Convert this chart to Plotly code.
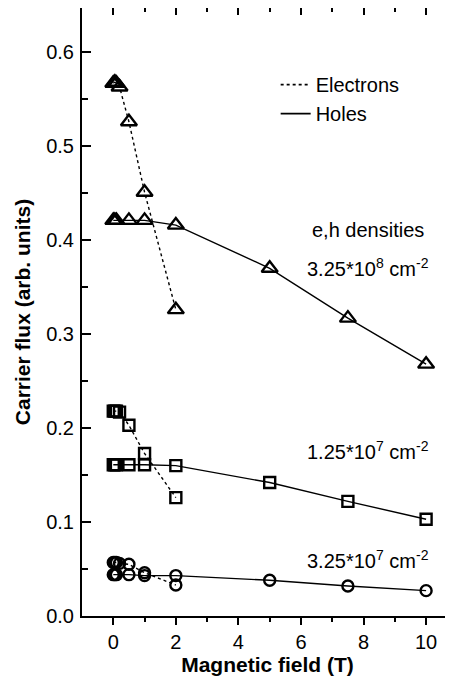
import plotly.graph_objects as go

# ---- data ----
tri_e_x = [0, 0.05, 0.1, 0.2, 0.5, 1, 2]
tri_e_y = [0.567, 0.568, 0.567, 0.563, 0.526, 0.451, 0.326]
tri_h_x = [0, 0.05, 0.1, 0.5, 1, 2, 5, 7.5, 10]
tri_h_y = [0.421, 0.421, 0.421, 0.421, 0.421, 0.416, 0.370, 0.317, 0.268]

sq_e_x = [0, 0.05, 0.1, 0.2, 0.5, 1, 2]
sq_e_y = [0.218, 0.218, 0.218, 0.217, 0.203, 0.173, 0.126]
sq_h_x = [0, 0.05, 0.1, 0.5, 1, 2, 5, 7.5, 10]
sq_h_y = [0.161, 0.161, 0.161, 0.161, 0.161, 0.160, 0.142, 0.122, 0.103]

ci_e_x = [0, 0.05, 0.1, 0.2, 0.5, 1, 2]
ci_e_y = [0.057, 0.057, 0.057, 0.056, 0.055, 0.046, 0.033]
ci_h_x = [0, 0.05, 0.1, 0.5, 1, 2, 5, 7.5, 10]
ci_h_y = [0.044, 0.044, 0.044, 0.044, 0.043, 0.043, 0.038, 0.032, 0.027]

x_ticks = [0, 2, 4, 6, 8, 10]
x_minor = [1, 3, 5, 7, 9]
y_ticks = [0, 0.1, 0.2, 0.3, 0.4, 0.5, 0.6]
y_ticktext = ["0.0", "0.1", "0.2", "0.3", "0.4", "0.5", "0.6"]
y_minor = [0.05, 0.15, 0.25, 0.35, 0.45, 0.55]

x_range = [-1, 10.86]
y_range = [0, 0.647]

FONT = "Liberation Sans, Arial, sans-serif"

fig = go.Figure()

def add(xs, ys, sym, dash, size):
    fig.add_trace(go.Scatter(
        x=xs, y=ys, mode="lines+markers", showlegend=False,
        line=dict(color="black", width=1.4, dash=dash),
        marker=dict(symbol=sym, size=size, color="black", line=dict(width=2.4, color="black")),
    ))

add(tri_e_x, tri_e_y, "triangle-up-open", "dot", 14)
add(tri_h_x, tri_h_y, "triangle-up-open", "solid", 14)
add(sq_e_x, sq_e_y, "square-open", "dot", 11)
add(sq_h_x, sq_h_y, "square-open", "solid", 11)
add(ci_e_x, ci_e_y, "circle-open", "dot", 11)
add(ci_h_x, ci_h_y, "circle-open", "solid", 11)

# legend entries
fig.add_trace(go.Scatter(x=[None], y=[None], mode="lines", name="Electrons",
                         line=dict(color="black", width=1.6, dash="dot")))
fig.add_trace(go.Scatter(x=[None], y=[None], mode="lines", name="Holes",
                         line=dict(color="black", width=1.8)))
# mirror axes carrier
fig.add_trace(go.Scatter(x=[None], y=[None], xaxis="x2", yaxis="y2",
                         showlegend=False, hoverinfo="skip"))

annots = [
    (8.14, 0.411, "e,h densities"),
    (8.14, 0.371, "3.25*10<sup>8</sup> cm<sup>-2</sup>"),
    (8.14, 0.176, "1.25*10<sup>7</sup> cm<sup>-2</sup>"),
    (8.13, 0.060, "3.25*10<sup>7</sup> cm<sup>-2</sup>"),
]
for ax, ay, txt in annots:
    fig.add_annotation(x=ax, y=ay, text=txt, showarrow=False,
                       font=dict(family=FONT, size=20, color="black"))

axis_common = dict(showgrid=False, zeroline=False, linecolor="black", linewidth=2,
                   tickcolor="black", tickwidth=1.8)

fig.update_layout(
    width=445, height=677,
    margin=dict(l=74, r=0, t=0, b=69),
    paper_bgcolor="white", plot_bgcolor="white",
    font=dict(family=FONT, size=20, color="black"),
    showlegend=True,
    legend=dict(x=0.522, y=0.906, xanchor="left", yanchor="top",
                bgcolor="rgba(0,0,0,0)", font=dict(size=20, family=FONT)),
    xaxis=dict(range=x_range, tickmode="array", tickvals=x_ticks,
               ticks="outside", ticklen=7, showline=True,
               minor=dict(tickvals=x_minor, ticks="outside", ticklen=4,
                          tickcolor="black", tickwidth=1.8),
               title=dict(text="<b>Magnetic field (T)</b>", font=dict(size=21, family=FONT), standoff=4),
               tickfont=dict(size=20), **axis_common),
    yaxis=dict(range=y_range, tickmode="array", tickvals=y_ticks, ticktext=y_ticktext,
               ticks="inside", ticklen=9, showline=True, ticklabelstandoff=2,
               minor=dict(tickvals=y_minor, ticks="inside",
                          ticklen=6, tickcolor="black", tickwidth=1.8),
               title=dict(text="<b>Carrier flux (arb. units)</b>", font=dict(size=21, family=FONT), standoff=10),
               tickfont=dict(size=20), **axis_common),
    xaxis2=dict(range=x_range, overlaying="x", side="top", anchor="y",
                tickmode="array", tickvals=x_ticks,
                ticks="inside", ticklen=7, showline=True, showticklabels=False,
                minor=dict(tickvals=x_minor, ticks="inside", ticklen=4,
                           tickcolor="black", tickwidth=1.8),
                **axis_common),
    yaxis2=dict(range=y_range, overlaying="y", side="right", anchor="x",
                tickmode="array", tickvals=y_ticks,
                ticks="inside", ticklen=6, showline=False, showticklabels=False,
                minor=dict(tickvals=y_minor, ticks="inside",
                           ticklen=4, tickcolor="black", tickwidth=1.8),
                **axis_common),
)

fig.write_html("out.html")
